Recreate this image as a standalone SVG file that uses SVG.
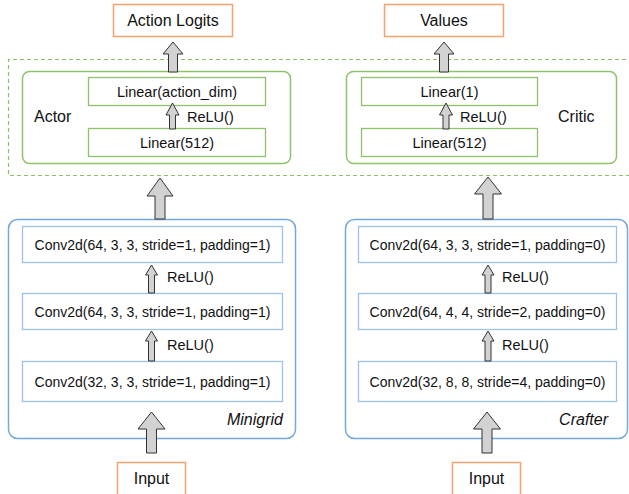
<svg xmlns="http://www.w3.org/2000/svg" width="629" height="494" viewBox="0 0 629 494">
<defs>
<style>
text{font-family:"Liberation Sans",Arial,sans-serif;fill:#111;}
.t14{font-size:14px;}
.t145{font-size:14.5px;}
.t16{font-size:16px;}
.mid{text-anchor:middle;}
.it{font-style:italic;text-anchor:end;font-size:16px;}
.io{fill:#fff;stroke:#F4A270;stroke-width:1.5;}
.grp{fill:none;stroke:#90C26C;stroke-width:1.5;}
.lin{fill:#fff;stroke:#90C26C;stroke-width:1.3;}
.dash{fill:none;stroke:#8DBE68;stroke-width:1.2;stroke-dasharray:4 3;}
.enc{fill:none;stroke:#74A8DE;stroke-width:1.5;}
.conv{fill:#fff;stroke:#9DC2E8;stroke-width:1.3;}
.arr{fill:#D2D2D2;stroke:#333;stroke-width:1;stroke-linejoin:miter;}
</style>
</defs>
<rect width="629" height="494" fill="#fff"/>

<path class="dash" d="M640,59.5 H8.5 V175.5 H640"/>

<g id="action_logits">
<rect class="io" x="113.5" y="4.5" width="119" height="32"/>
<text class="t16 mid" x="173" y="26">Action Logits</text>
</g>
<g id="values">
<rect class="io" x="384.5" y="4.5" width="119" height="32"/>
<text class="t16 mid" x="444" y="26">Values</text>
</g>

<g id="actor">
<rect class="grp" x="22.5" y="71.5" width="268" height="92" rx="7"/>
<text class="t16" x="34" y="122">Actor</text>
<g id="actor_linear_action_dim">
<rect class="lin" x="88.5" y="77.5" width="177" height="28"/>
<text class="t145 mid" x="177" y="97">Linear(action_dim)</text>
</g>
<g id="actor_linear_512">
<rect class="lin" x="88.5" y="128.5" width="177" height="28"/>
<text class="t145 mid" x="177" y="148">Linear(512)</text>
</g>
<text class="t145" x="187" y="122">ReLU()</text>
</g>

<g id="critic">
<rect class="grp" x="346.5" y="71.5" width="270" height="92" rx="7"/>
<text class="t16" x="558" y="122">Critic</text>
<g id="critic_linear_1">
<rect class="lin" x="361.5" y="77.5" width="176" height="28"/>
<text class="t145 mid" x="449.5" y="97">Linear(1)</text>
</g>
<g id="critic_linear_512">
<rect class="lin" x="361.5" y="128.5" width="176" height="28"/>
<text class="t145 mid" x="449.5" y="148">Linear(512)</text>
</g>
<text class="t145" x="460" y="122">ReLU()</text>
</g>

<g id="minigrid">
<rect class="enc" x="8.5" y="219.5" width="287" height="219" rx="9"/>
<g id="mg_conv1">
<rect class="conv" x="22.5" y="226.5" width="260" height="36"/>
<text class="t14 mid" x="152.5" y="250">Conv2d(64, 3, 3, stride=1, padding=1)</text>
</g>
<g id="mg_conv2">
<rect class="conv" x="22.5" y="293.5" width="260" height="36"/>
<text class="t14 mid" x="152.5" y="317">Conv2d(64, 3, 3, stride=1, padding=1)</text>
</g>
<g id="mg_conv3">
<rect class="conv" x="22.5" y="361.5" width="260" height="40"/>
<text class="t14 mid" x="152.5" y="387">Conv2d(32, 3, 3, stride=1, padding=1)</text>
</g>
<text class="t145" x="167" y="282">ReLU()</text>
<text class="t145" x="167" y="350">ReLU()</text>
<text class="it" x="283" y="425">Minigrid</text>
</g>

<g id="crafter">
<rect class="enc" x="345.5" y="219.5" width="282" height="219" rx="9"/>
<g id="cr_conv1">
<rect class="conv" x="358.5" y="226.5" width="258" height="36"/>
<text class="t14 mid" x="487.5" y="250">Conv2d(64, 3, 3, stride=1, padding=0)</text>
</g>
<g id="cr_conv2">
<rect class="conv" x="358.5" y="293.5" width="258" height="36"/>
<text class="t14 mid" x="487.5" y="317">Conv2d(64, 4, 4, stride=2, padding=0)</text>
</g>
<g id="cr_conv3">
<rect class="conv" x="358.5" y="361.5" width="258" height="40"/>
<text class="t14 mid" x="487.5" y="387">Conv2d(32, 8, 8, stride=4, padding=0)</text>
</g>
<text class="t145" x="502" y="282">ReLU()</text>
<text class="t145" x="502" y="350">ReLU()</text>
<text class="it" x="608" y="425">Crafter</text>
</g>

<g id="input_minigrid">
<rect class="io" x="117.5" y="462.5" width="68" height="40"/>
<text class="t16 mid" x="151.5" y="484">Input</text>
</g>
<g id="input_crafter">
<rect class="io" x="452.5" y="462.5" width="68" height="40"/>
<text class="t16 mid" x="486.5" y="484">Input</text>
</g>

<g id="connectors">
<path class="arr" d="M173,42 L183,54 L177.5,54 L177.5,72 L168.5,72 L168.5,54 L163,54 Z"/>
<path class="arr" d="M444,42 L454,54 L448.5,54 L448.5,72 L439.5,72 L439.5,54 L434,54 Z"/>
<path class="arr" d="M172.5,103 L179,115 L175.5,115 L175.5,129 L169.5,129 L169.5,115 L166,115 Z"/>
<path class="arr" d="M446,103 L452.5,115 L449,115 L449,129 L443,129 L443,115 L439.5,115 Z"/>
<path class="arr" d="M160,178 L173,196 L165,196 L165,219 L155,219 L155,196 L147,196 Z"/>
<path class="arr" d="M488,177 L501.5,194 L493,194 L493,219 L483,219 L483,194 L474.5,194 Z"/>
<path class="arr" d="M151.5,265 L157.5,275 L154.5,275 L154.5,293 L148.5,293 L148.5,275 L145.5,275 Z"/>
<path class="arr" d="M151.5,331 L157.5,341 L154.5,341 L154.5,361 L148.5,361 L148.5,341 L145.5,341 Z"/>
<path class="arr" d="M488,265 L494,275 L491,275 L491,293 L485,293 L485,275 L482,275 Z"/>
<path class="arr" d="M488,331 L494,341 L491,341 L491,361 L485,361 L485,341 L482,341 Z"/>
<path class="arr" d="M151.5,412 L165,429 L156.5,429 L156.5,453 L146.5,453 L146.5,429 L138,429 Z"/>
<path class="arr" d="M487,412 L500.5,429 L492,429 L492,453 L482,453 L482,429 L473.5,429 Z"/>
</g>
</svg>
